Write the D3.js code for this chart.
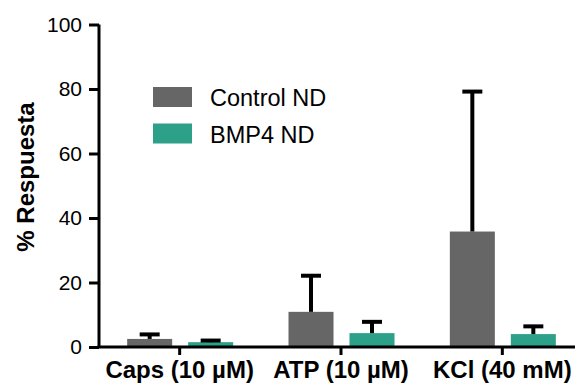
<!DOCTYPE html>
<html>
<head>
<meta charset="utf-8">
<script src="https://cdn.jsdelivr.net/npm/d3@7"></script>
<style>
  body { margin: 0; background: #fff; }
  svg { font-family: "Liberation Sans", Arial, sans-serif; }
</style>
</head>
<body>
<div id="wrapper"></div>
<script>
// data
const categories = ["Caps (10 µM)", "ATP (10 µM)", "KCl (40 mM)"]
const seriesNames = ["Control ND", "BMP4 ND"]
const controlMean = [2.5, 10.9, 35.8]
const controlTop = [3.9, 22.1, 79.2]
const bmpMean = [1.5, 4.3, 4.0]
const bmpTop = [2.0, 7.8, 6.4]
const yTicks = [0, 20, 40, 60, 80, 100]
const colors = ["#666666", "#2ca088"]

function drawbars() {
    const width = 575
    const height = 383
    const svg = d3.select("#wrapper").append("svg")
        .attr("width", width)
        .attr("height", height)

    const x = d3.scaleBand()
        .domain(categories)
        .range([99, 583])
    const xSub = d3.scaleBand()
        .domain(seriesNames)
        .range([-52.5, 53.5])
        .paddingInner(0.262)
    const y = d3.scaleLinear()
        .domain([0, 100])
        .range([347, 24.5])

    const rows = []
    categories.forEach(function(c, i) {
        rows.push({cat: c, s: seriesNames[0], v: controlMean[i], top: controlTop[i], col: colors[0]})
        rows.push({cat: c, s: seriesNames[1], v: bmpMean[i], top: bmpTop[i], col: colors[1]})
    })

    // bars
    svg.append("g").selectAll("rect")
        .data(rows)
        .enter().append("rect")
        .attr("x", function(d) { return x(d.cat) + x.bandwidth()/2 + xSub(d.s) })
        .attr("y", function(d) { return y(d.v) })
        .attr("width", xSub.bandwidth())
        .attr("height", function(d) { return y(0) - y(d.v) })
        .style("fill", function(d) { return d.col })

    // error bars (upper only)
    const eb = svg.append("g").selectAll("g")
        .data(rows)
        .enter().append("g")
        .attr("transform", function(d) {
            return "translate(" + (x(d.cat) + x.bandwidth()/2 + xSub(d.s) + xSub.bandwidth()/2) + ",0)"
        })
    eb.append("line")
        .attr("x1", 0).attr("x2", 0)
        .attr("y1", function(d) { return y(d.v) })
        .attr("y2", function(d) { return y(d.top) })
        .attr("stroke", "#000").attr("stroke-width", 4)
    eb.append("line")
        .attr("x1", -10).attr("x2", 10)
        .attr("y1", function(d) { return y(d.top) })
        .attr("y2", function(d) { return y(d.top) })
        .attr("stroke", "#000").attr("stroke-width", 4)

    // y axis
    const yAxis = svg.append("g")
        .attr("transform", "translate(99,0)")
        .call(d3.axisLeft(y).tickValues(yTicks).tickSize(10).tickPadding(7))
    yAxis.select(".domain").attr("stroke-width", 3).attr("d", "M0," + y(100) + "V" + y(0))
    yAxis.selectAll(".tick line").attr("stroke-width", 3)
    yAxis.selectAll("text")
        .style("font-size", "21px")
        .style("font-family", "Liberation Sans, Arial, sans-serif")
        .attr("fill", "#000")

    // x axis
    const xAxis = svg.append("g")
        .attr("transform", "translate(0," + y(0) + ")")
        .call(d3.axisBottom(x).tickSize(8).tickPadding(6))
    xAxis.select(".domain").attr("stroke-width", 3).attr("d", "M97.5,0H575")
    xAxis.selectAll(".tick line").attr("stroke-width", 3)
    xAxis.selectAll("text")
        .style("font-size", "24px")
        .style("font-weight", "bold")
        .style("font-family", "Liberation Sans, Arial, sans-serif")
        .attr("fill", "#000")

    // y title
    svg.append("text")
        .attr("transform", "translate(34,177) rotate(-90)")
        .attr("text-anchor", "middle")
        .style("font-size", "24px")
        .style("font-weight", "bold")
        .text("% Respuesta")

    // legend
    const legend = svg.append("g").selectAll("g")
        .data(seriesNames)
        .enter().append("g")
        .attr("transform", function(d, i) { return "translate(153," + (87 + i*36.5) + ")" })
    legend.append("rect")
        .attr("width", 39)
        .attr("height", 20)
        .style("fill", function(d, i) { return colors[i] })
    legend.append("text")
        .attr("x", 57)
        .attr("y", 19)
        .style("font-size", "23.5px")
        .text(function(d) { return d })
}
drawbars()
</script>
</body>
</html>
